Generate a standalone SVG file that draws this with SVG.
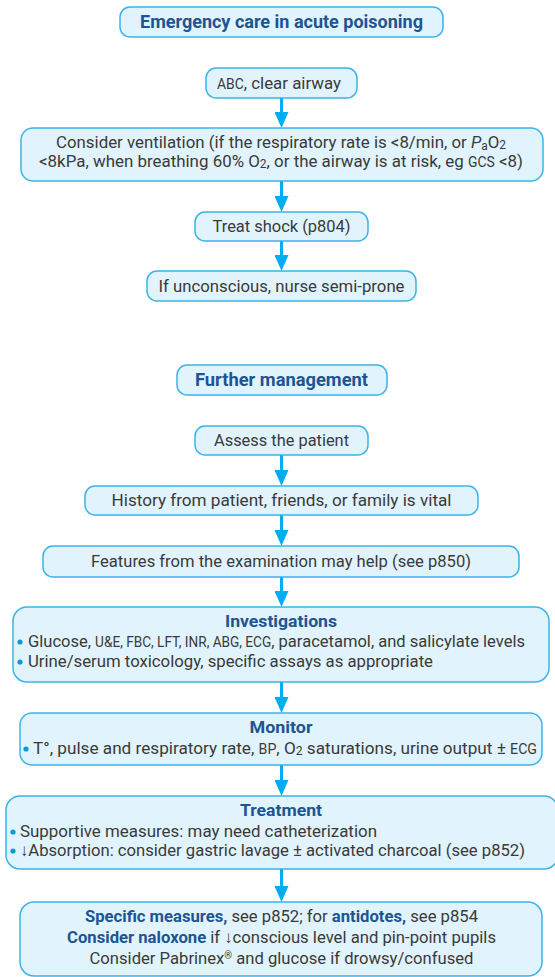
<svg xmlns="http://www.w3.org/2000/svg" width="555" height="977" viewBox="0 0 555 977">
<defs>
<style>
.box{fill:#e1f3fc;stroke:#3bb4e8;stroke-width:1.5}
.t{font-family:Roboto,"Liberation Sans",sans-serif;font-size:17px;fill:#3a3a3a}
.h{font-family:Roboto,"Liberation Sans",sans-serif;font-size:18px;font-weight:bold;fill:#1d5592}
.b{font-weight:bold;fill:#1d5592}
.sc{font-size:14px}
.sub{font-size:12px}
.bul{fill:#0a9ad8}
.con{stroke:#00aeef;stroke-width:3;fill:none}
</style>
<marker id="ah" markerUnits="userSpaceOnUse" markerWidth="16" markerHeight="14" refX="0" refY="7" orient="auto" viewBox="0 0 16 14">
<path d="M0,0 L16,7 L0,14 Z" fill="#00aeef"/>
</marker>
</defs>
<rect width="555" height="977" fill="#ffffff"/>

<g id="connectors">
<path class="con" d="M281.5,98 V112" marker-end="url(#ah)"/>
<path class="con" d="M281.5,181 V196" marker-end="url(#ah)"/>
<path class="con" d="M281.5,241 V255" marker-end="url(#ah)"/>
<path class="con" d="M281.5,455 V470" marker-end="url(#ah)"/>
<path class="con" d="M281.5,515 V530" marker-end="url(#ah)"/>
<path class="con" d="M281.5,577 V591" marker-end="url(#ah)"/>
<path class="con" d="M281.5,682 V697" marker-end="url(#ah)"/>
<path class="con" d="M281.5,765 V780" marker-end="url(#ah)"/>
<path class="con" d="M281.5,869 V886" marker-end="url(#ah)"/>
</g>

<g id="title1">
<rect class="box" x="120" y="7" width="323" height="30" rx="10"/>
<text class="h" x="281.5" y="28" text-anchor="middle" textLength="283" lengthAdjust="spacingAndGlyphs">Emergency care in acute poisoning</text>
</g>

<g id="abc">
<rect class="box" x="206" y="68" width="151" height="30" rx="10"/>
<text class="t" x="217" y="89" textLength="124" lengthAdjust="spacingAndGlyphs"><tspan class="sc">ABC</tspan>, clear airway</text>
</g>

<g id="ventilation">
<rect class="box" x="21" y="128" width="522" height="53" rx="12"/>
<text class="t" x="56" y="148" textLength="450" lengthAdjust="spacingAndGlyphs">Consider ventilation (if the respiratory rate is &lt;8/min, or <tspan font-style="italic">P</tspan><tspan class="sub" dy="2">a</tspan><tspan dy="-2">O</tspan><tspan class="sub" dy="1">2</tspan></text>
<text class="t" x="39" y="167" textLength="484" lengthAdjust="spacingAndGlyphs">&lt;8kPa, when breathing 60% O<tspan class="sub" dy="1">2</tspan><tspan dy="-1">, or the airway is at risk, eg </tspan><tspan class="sc">GCS</tspan> &lt;8)</text>
</g>

<g id="shock">
<rect class="box" x="195" y="212" width="173" height="29" rx="10"/>
<text class="t" x="281.5" y="232" text-anchor="middle" textLength="138" lengthAdjust="spacingAndGlyphs">Treat shock (p804)</text>
</g>

<g id="unconscious">
<rect class="box" x="147" y="271" width="269" height="30" rx="10"/>
<text class="t" x="281.5" y="292" text-anchor="middle" textLength="246" lengthAdjust="spacingAndGlyphs">If unconscious, nurse semi-prone</text>
</g>

<g id="title2">
<rect class="box" x="177" y="365" width="210" height="30" rx="10"/>
<text class="h" x="281.5" y="386" text-anchor="middle" textLength="173" lengthAdjust="spacingAndGlyphs">Further management</text>
</g>

<g id="assess">
<rect class="box" x="195" y="426" width="173" height="29" rx="10"/>
<text class="t" x="281.5" y="446" text-anchor="middle" textLength="135" lengthAdjust="spacingAndGlyphs">Assess the patient</text>
</g>

<g id="history">
<rect class="box" x="85" y="486" width="393" height="29" rx="10"/>
<text class="t" x="281.5" y="506" text-anchor="middle" textLength="340" lengthAdjust="spacingAndGlyphs">History from patient, friends, or family is vital</text>
</g>

<g id="features">
<rect class="box" x="43" y="546" width="476" height="31" rx="10"/>
<text class="t" x="281" y="567" text-anchor="middle" textLength="380" lengthAdjust="spacingAndGlyphs">Features from the examination may help (see p850)</text>
</g>

<g id="investigations">
<rect class="box" x="13" y="607" width="536" height="75" rx="14"/>
<text class="t b" x="281" y="627" text-anchor="middle" textLength="112" lengthAdjust="spacingAndGlyphs">Investigations</text>
<circle class="bul" cx="20" cy="642" r="2.6"/>
<text class="t" x="28" y="647" textLength="497" lengthAdjust="spacingAndGlyphs">Glucose, <tspan class="sc">U&amp;E, FBC, LFT, INR, ABG, ECG</tspan>, paracetamol, and salicylate levels</text>
<circle class="bul" cx="20" cy="662" r="2.6"/>
<text class="t" x="28" y="667" textLength="405" lengthAdjust="spacingAndGlyphs">Urine/serum toxicology, specific assays as appropriate</text>
</g>

<g id="monitor">
<rect class="box" x="20" y="713" width="522" height="52" rx="12"/>
<text class="t b" x="281" y="733" text-anchor="middle" textLength="63" lengthAdjust="spacingAndGlyphs">Monitor</text>
<circle class="bul" cx="26" cy="749" r="2.6"/>
<text class="t" x="33" y="754" textLength="504" lengthAdjust="spacingAndGlyphs">T°, pulse and respiratory rate, <tspan class="sc">BP</tspan>, O<tspan class="sub" dy="1">2</tspan><tspan dy="-1"> saturations, urine output ± </tspan><tspan class="sc">ECG</tspan></text>
</g>

<g id="treatment">
<rect class="box" x="6" y="796" width="552" height="73" rx="14"/>
<text class="t b" x="281" y="816" text-anchor="middle" textLength="82" lengthAdjust="spacingAndGlyphs">Treatment</text>
<circle class="bul" cx="13" cy="832" r="2.6"/>
<text class="t" x="20" y="837" textLength="357" lengthAdjust="spacingAndGlyphs">Supportive measures: may need catheterization</text>
<circle class="bul" cx="13" cy="851" r="2.6"/>
<text class="t" x="20" y="856" textLength="505" lengthAdjust="spacingAndGlyphs">↓Absorption: consider gastric lavage ± activated charcoal (see p852)</text>
</g>

<g id="specific">
<rect class="box" x="20" y="902" width="522" height="74" rx="14"/>
<text class="t" x="281.5" y="922" text-anchor="middle" textLength="393" lengthAdjust="spacingAndGlyphs"><tspan class="b">Specific measures,</tspan> see p852; for <tspan class="b">antidotes,</tspan> see p854</text>
<text class="t" x="281.5" y="943" text-anchor="middle" textLength="429" lengthAdjust="spacingAndGlyphs"><tspan class="b">Consider naloxone</tspan> if ↓conscious level and pin-point pupils</text>
<text class="t" x="281.5" y="964" text-anchor="middle" textLength="384" lengthAdjust="spacingAndGlyphs">Consider Pabrinex<tspan font-size="10" dy="-5">®</tspan><tspan dy="5"> and glucose if drowsy/confused</tspan></text>
</g>
</svg>
